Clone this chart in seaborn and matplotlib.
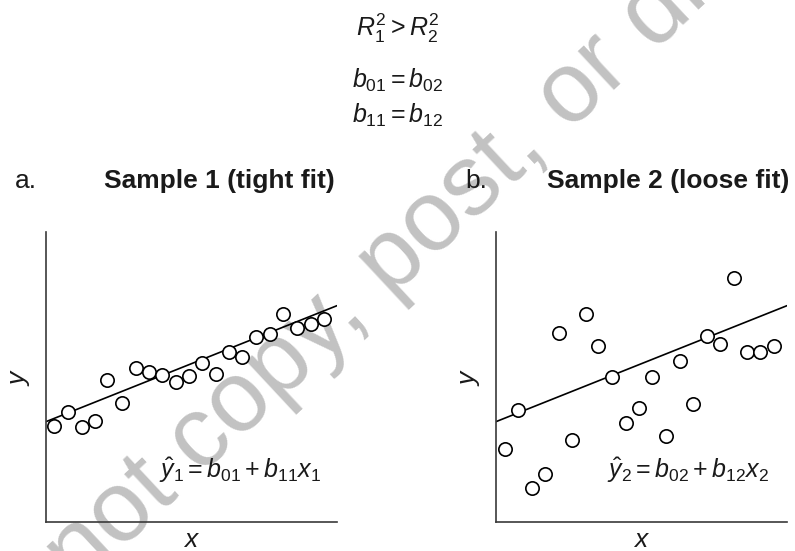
import matplotlib
matplotlib.use("Agg")
import matplotlib.pyplot as plt
import seaborn as sns
import pandas as pd

sns.set_theme(style="white")
plt.rcParams['font.family'] = ['Liberation Sans', 'DejaVu Sans']
plt.rcParams['mathtext.fontset'] = 'custom'
plt.rcParams['mathtext.rm'] = 'Liberation Sans'
plt.rcParams['mathtext.it'] = 'Liberation Sans:italic'
plt.rcParams['mathtext.bf'] = 'Liberation Sans:bold'

# ---- data (arbitrary units 0..10) ----
x1 = [0.29, 0.76, 1.23, 1.70, 2.11, 2.60, 3.08, 3.53, 4.00, 4.46, 4.91,
      5.37, 5.83, 6.29, 6.75, 7.23, 7.70, 8.16, 8.61, 9.09, 9.54]
y1 = [3.32, 3.80, 3.27, 3.49, 4.90, 4.09, 5.32, 5.18, 5.06, 4.82, 5.04,
      5.47, 5.09, 5.87, 5.69, 6.39, 6.48, 7.16, 6.68, 6.83, 7.00]

x2 = [0.32, 0.76, 1.23, 1.69, 2.17, 2.60, 3.08, 3.51, 3.99, 4.47, 4.93,
      5.37, 5.83, 6.31, 6.77, 7.24, 7.69, 8.18, 8.64, 9.08, 9.55]
y2 = [2.51, 3.86, 1.18, 1.66, 6.53, 2.83, 7.18, 6.07, 4.99, 3.42, 3.93,
      4.99, 2.98, 5.55, 4.08, 6.42, 6.15, 8.40, 5.85, 5.87, 6.07]

# common fitted line: intercept and slope
b0 = 3.46
b1 = 0.40
line_x = [0.0, 10.0]

panel_letters = ["a.", "b."]
panel_titles = ["Sample 1 (tight fit)", "Sample 2 (loose fit)"]
equations = [r"$\hat{y}_1 = b_{01} + b_{11}x_1$", r"$\hat{y}_2 = b_{02} + b_{12}x_2$"]
header = [r"$R^2_1 > R^2_2$", r"$b_{01} = b_{02}$", r"$b_{11} = b_{12}$"]

W, H = 795, 551
fig = plt.figure(figsize=(W / 100, H / 100), dpi=100)
fig.patch.set_facecolor("white")

def px(xp, yp):
    return xp / W, 1 - yp / H

axes_px = [(46, 232, 337, 522), (496, 232, 787, 522)]
samples = [(x1, y1), (x2, y2)]
eq_pos = [(240, 478), (688, 478)]

for i, (l, t, r, b) in enumerate(axes_px):
    ax = fig.add_axes([l / W, 1 - b / H, (r - l) / W, (b - t) / H])
    ax.patch.set_alpha(0)
    xs, ys = samples[i]
    df = pd.DataFrame({"x": xs, "y": ys})
    ldf = pd.DataFrame({"x": line_x, "y": [b0 + b1 * v for v in line_x]})
    sns.lineplot(data=ldf, x="x", y="y", ax=ax, color="black", lw=1.2, zorder=2)
    sns.scatterplot(data=df, x="x", y="y", ax=ax, s=92, facecolor="white",
                    edgecolor="black", linewidth=1.2, zorder=3, clip_on=False)
    ax.set_xlim(0, 10)
    ax.set_ylim(0, 10)
    ax.set_xticks([])
    ax.set_yticks([])
    ax.set_xlabel("")
    ax.set_ylabel("")
    for s in ["top", "right"]:
        ax.spines[s].set_visible(False)
    for s in ["left", "bottom"]:
        ax.spines[s].set_color("#3a3a3a")
        ax.spines[s].set_linewidth(1.2)
    ax.text(0.5, -0.062, r"$x$", transform=ax.transAxes, ha="center", va="center",
            fontsize=19, color="#1a1a1a")
    ax.text(-0.09, 0.5, r"$y$", transform=ax.transAxes, ha="center", va="center",
            rotation=90, fontsize=19, color="#1a1a1a")
    ex, ey = eq_pos[i]
    fig.text(*px(ex, ey), equations[i], ha="center", va="baseline", fontsize=18,
             color="#1a1a1a")

# panel titles
fig.text(*px(15, 188), panel_letters[0], ha="left", va="baseline", fontsize=19, color="#1a1a1a")
fig.text(*px(219, 188), panel_titles[0], ha="center", va="baseline", fontsize=19,
         fontweight="bold", color="#1a1a1a")
fig.text(*px(465, 188), panel_letters[1], ha="left", va="baseline", fontsize=19, color="#1a1a1a")
fig.text(*px(668, 188), panel_titles[1], ha="center", va="baseline", fontsize=19,
         fontweight="bold", color="#1a1a1a")

# header formulas
for txt, yb in zip(header, [36, 88, 123]):
    fig.text(*px(398, yb), txt, ha="center", va="baseline", fontsize=18, color="#1a1a1a")

# watermark
fig.text(*px(440, 217), "Do not copy, post, or distribute", ha="center", va="center",
         rotation=43, rotation_mode="anchor", fontsize=72, color="#c2c2c2", zorder=-5)

fig.savefig("out.png", dpi=100, facecolor="white")
